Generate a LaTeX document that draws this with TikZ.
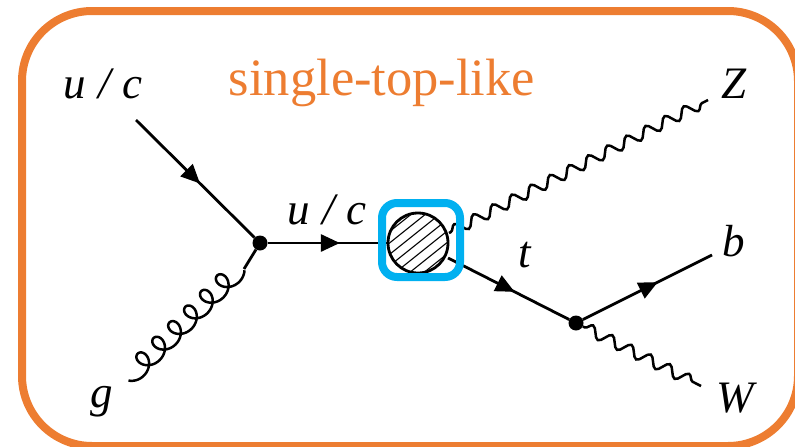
\documentclass[tikz,border=0pt]{standalone}
\usepackage{fontspec}
\setmainfont{Liberation Serif}
\usetikzlibrary{decorations.pathmorphing,decorations.markings,arrows.meta}
\definecolor{frameorange}{HTML}{ED7D31}
\definecolor{boxblue}{HTML}{00B0F0}
\tikzset{
  fermion/.style={line width=2.8pt,postaction={decorate},decoration={markings,mark=at position #1 with {\arrow{Triangle[length=19pt,width=17pt]}}}},
  fermion/.default=0.5,
  plainline/.style={line width=2.8pt},
  photon/.style={line width=2.5pt,decorate,decoration={snake,amplitude=5.5pt,segment length=21.5pt,pre length=2pt,post length=2pt}},
  gluon/.style={line width=2.5pt,smooth},
  vertexdot/.style={circle,fill=black,inner sep=0pt,minimum size=15pt},
  lab/.style={font=\fontsize{45}{45}\selectfont\itshape,inner sep=0pt},
  blobnode/.style={circle,draw=black,line width=2.8pt,minimum size=60pt,inner sep=0pt,fill=white},
}
\newcommand{\uc}{u\hskip 0.27em/\hskip 0.27em c}
\begin{document}
\begin{tikzpicture}[x=1pt,y=-1pt]
\useasboundingbox (0,0) rectangle (795,447);
\clip (0,0) rectangle (795,447);
\draw[frameorange,line width=8pt,rounded corners=70pt] (22,11) rectangle (798,446);
\node[text=frameorange,font=\fontsize{52.5}{52.5}\selectfont,inner sep=0pt] (title) at (382,83) {single-top-like};
\coordinate (q1) at (136,120);
\coordinate (g1) at (127,381);
\coordinate (g2) at (244,269);
\coordinate (zend) at (708,100);
\coordinate (zstart) at (449,233);
\coordinate (bend) at (712,255);
\coordinate (wend) at (701,386);
\coordinate (tstart) at (448,258);
\coordinate (uend) at (388,243);
\node[vertexdot] (v1) at (260,243) {};
\node[vertexdot] (v2) at (576,323) {};
\draw[fermion=0.54] (q1) -- (v1);
\draw[gluon] plot[domain={-pi-1.3}:{11*pi+1},samples=260,variable=\t]
  ({127+0.713*(26.8+3.55*\t-10*sin(\t r))-0.701*(2+10*cos(\t r))},
   {381-0.701*(26.8+3.55*\t-10*sin(\t r))-0.713*(2+10*cos(\t r))});
\draw[plainline] (g2) -- (v1);
\draw[fermion=0.6] (v1) -- (uend);
\draw[photon] (zstart) -- (zend);
\draw[fermion=0.55] (tstart) -- (v2);
\draw[fermion=0.58] (v2) -- (bend);
\draw[photon] (v2) -- (wend);
\node[blobnode] (blob) at (418,243) {};
\begin{scope}
  \clip (418,243) circle (29pt);
  \foreach \d in {-60,-48,...,60}
    \draw[line width=1.1pt] (418-40+\d,243+32+\d*0.15) -- (418+40+\d,243-32+\d*0.15);
\end{scope}
\draw[boxblue,line width=8pt,rounded corners=15pt] (382,203) rectangle (460,277);
\node[lab] (a) at (103,84) {\uc};
\node[lab] (c) at (327,210) {\uc};
\node[lab] (z) at (734,84) {Z};
\node[lab] (b) at (734,241) {b};
\node[lab] (t) at (525,255) {t};
\node[lab] (w) at (735,398) {W};
\node[lab] (g) at (102,402) {g};
\end{tikzpicture}
\end{document}
